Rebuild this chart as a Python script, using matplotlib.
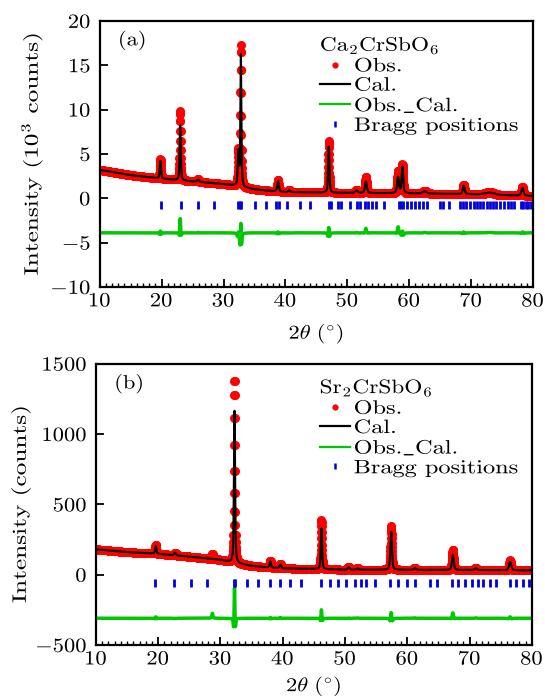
import matplotlib
matplotlib.use('Agg')
import matplotlib.pyplot as plt
import numpy as np
from matplotlib.ticker import MultipleLocator
from matplotlib.patheffects import AbstractPathEffect
from matplotlib.transforms import Affine2D

plt.rcParams['font.family'] = 'serif'
plt.rcParams['font.serif'] = ['cmr10']
plt.rcParams['mathtext.fontset'] = 'cm'
plt.rcParams['axes.formatter.use_mathtext'] = True
plt.rcParams['font.size'] = 14

# ---- Ca2CrSbO6 (intensity in 10^3 counts) ----
bg_x_a = [10, 15, 20, 25, 30, 32, 35, 38, 40, 50, 60, 70, 80]
bg_y_a = [3.2, 2.6, 2.2, 1.9, 1.6, 1.4, 1.0, 0.8, 0.7, 0.6, 0.55, 0.45, 0.25]
peak_pos_a = [19.8, 23.0, 25.9, 32.4, 32.8, 38.8, 40.6, 47.0, 51.5, 53.0, 58.2, 58.9, 62.5, 68.8, 73.0, 78.3]
peak_obs_a = [2.2, 7.8, 0.3, 4.0, 15.9, 1.3, 0.2, 5.8, 0.35, 1.8, 2.5, 3.2, 0.3, 1.05, 0.3, 0.95]
peak_cal_a = [2.0, 6.2, 0.25, 3.8, 14.8, 1.2, 0.2, 5.2, 0.3, 1.3, 1.8, 3.0, 0.25, 0.95, 0.25, 0.85]
peak_fwhm_a = [0.2, 0.18, 0.3, 0.2, 0.16, 0.25, 0.3, 0.2, 0.4, 0.3, 0.3, 0.25, 0.6, 0.3, 1.5, 0.35]
bragg_a = [19.9, 23.1, 25.9, 28.5, 32.4, 32.7, 32.9, 35.1, 36.8, 38.5, 38.9, 40.2, 42.3, 43.9,
           47.0, 47.3, 48.5, 49.0, 50.4, 51.5, 52.1, 52.8, 53.3, 54.0, 54.7, 56.0, 58.3, 58.7,
           59.0, 59.6, 60.3, 61.0, 61.6, 62.3, 62.8, 65.0, 65.5, 66.5, 68.2, 68.7, 69.2, 69.8,
           70.4, 71.0, 71.5, 72.0, 72.6, 73.1, 73.6, 74.1, 74.7, 75.3, 75.9, 76.5, 77.0, 78.0,
           78.4, 78.8, 79.2, 79.6, 80.0]

# ---- Sr2CrSbO6 (intensity in counts) ----
bg_x_b = [10, 15, 20, 25, 30, 32, 35, 38, 40, 50, 60, 70, 80]
bg_y_b = [180, 160, 148, 128, 105, 85, 62, 50, 45, 35, 34, 33, 30]
peak_pos_b = [19.6, 22.7, 28.7, 32.25, 38.0, 39.6, 46.2, 50.6, 52.0, 57.4, 61.2, 67.3, 71.0, 76.5]
peak_obs_b = [65, 20, 35, 1310, 50, 30, 350, 20, 10, 310, 15, 145, 15, 70]
peak_cal_b = [55, 20, 0, 1090, 45, 25, 290, 18, 8, 270, 12, 107, 12, 60]
peak_fwhm_b = [0.2, 0.25, 0.2, 0.18, 0.22, 0.25, 0.2, 0.3, 0.3, 0.25, 0.3, 0.28, 0.35, 0.35]
bragg_b = [19.5, 22.5, 25.3, 27.8, 32.1, 32.3, 34.2, 36.1, 37.9, 39.5, 41.1, 43.0, 46.2,
           47.6, 48.9, 50.2, 51.6, 52.6, 53.4, 54.8, 57.2, 58.5, 59.9, 61.2, 63.6, 64.7,
           67.1, 68.2, 69.2, 70.3, 71.4, 72.2, 73.2, 74.3, 76.5, 77.5, 78.6, 79.6]

x = np.arange(10, 80.001, 0.02)


class Widen(AbstractPathEffect):
    """Stretch glyphs along the writing direction."""

    def __init__(self, sx, anchor='left'):
        super().__init__()
        self.sx = sx
        self.anchor = anchor

    def draw_path(self, renderer, gc, tpath, affine, rgbFace=None):
        v = tpath.vertices[:, 0]
        c = 0.0
        if len(v):
            if self.anchor == 'center':
                c = (v.min() + v.max()) / 2
            elif self.anchor == 'right':
                c = v.max()
        t = Affine2D().translate(-c, 0).scale(self.sx, 1).translate(c, 0)
        renderer.draw_path(gc, tpath, t + affine, rgbFace)


def profile(bx, by, pos, hgt, fwhm, wscale=1.0):
    y = np.interp(x, bx, by)
    for p, h, w in zip(pos, hgt, fwhm):
        w = w * wscale
        lor = (w / 2) ** 2 / ((x - p) ** 2 + (w / 2) ** 2)
        gau = np.exp(-4 * np.log(2) * (x - p) ** 2 / w ** 2)
        y = y + h * (0.5 * lor + 0.5 * gau)
    return y


def draw(ax, obs, cal, offset, bragg, bragg_y, title, tag, leg_x, leg_y, xpad):
    ax.plot(x, obs, 'o', color='#ff0000', ms=6.5, mec='none', label='Obs.')
    ax.plot(x, cal, '-', color='black', lw=1.5, label='Cal.')
    ax.plot(x, obs - cal + offset, '-', color='#00c800', lw=2.5, label=r'Obs.$\_$Cal.')
    ax.plot(bragg, [bragg_y] * len(bragg), '|', color='#0000dd', ms=5.5, mew=2,
            label='Bragg positions')
    ax.set_xlim(10, 80)
    ax.xaxis.set_major_locator(MultipleLocator(10))
    ax.xaxis.set_minor_locator(MultipleLocator(1))
    ax.tick_params(axis='both', which='both', direction='in', top=False, right=False,
                   labelsize=14.5)
    ax.tick_params(axis='x', which='major', length=6, width=1.3, pad=4)
    ax.tick_params(axis='x', which='minor', length=3, width=1.0)
    ax.tick_params(axis='y', which='major', length=6, width=1.3, pad=6)
    for s in ax.spines.values():
        s.set_linewidth(1.6)
    ax.set_xlabel(r'$2\theta\ (^{\circ})$', fontsize=14, labelpad=xpad,
                  path_effects=[Widen(1.15, 'center')])
    ax.text(0.042, 0.965, tag, transform=ax.transAxes, va='top', ha='left', fontsize=14,
            path_effects=[Widen(1.15)])
    leg = ax.legend(loc='upper left', bbox_to_anchor=(leg_x, leg_y), frameon=False,
                    title=title, handlelength=1.55, handletextpad=0.2, labelspacing=0.07,
                    borderaxespad=0, borderpad=0, alignment='left', fontsize=14)
    leg.get_title().set_fontsize(14)
    leg.get_title().set_path_effects([Widen(1.2)])
    for t in leg.get_texts():
        t.set_path_effects([Widen(1.25)])
    handles = leg.legend_handles
    handles[0].set_markersize(4.5)
    handles[1].set_linewidth(1.6)
    handles[2].set_linewidth(1.6)
    handles[3].set_markersize(5)
    handles[3].set_markeredgewidth(1.8)


fig = plt.figure(figsize=(5.45, 6.98), dpi=100)
ax1 = fig.add_axes([0.183, 0.589, 0.795, 0.381])
ax2 = fig.add_axes([0.176, 0.076, 0.800, 0.403])

obs_a = profile(bg_x_a, bg_y_a, peak_pos_a, peak_obs_a, peak_fwhm_a)
cal_a = profile(bg_x_a, bg_y_a, peak_pos_a, peak_cal_a, peak_fwhm_a, 1.2)
draw(ax1, obs_a, cal_a, -3.9, bragg_a, -0.75, r'Ca$_2$CrSbO$_6$', '(a)', 0.508, 0.948, 8)
ax1.set_ylim(-10, 20)
ax1.yaxis.set_major_locator(MultipleLocator(5))
ax1.set_ylabel(r'Intensity (10$^3$ counts)', fontsize=14, labelpad=7,
               path_effects=[Widen(1.3, 'center')])

obs_b = profile(bg_x_b, bg_y_b, peak_pos_b, peak_obs_b, peak_fwhm_b)
cal_b = profile(bg_x_b, bg_y_b, peak_pos_b, peak_cal_b, peak_fwhm_b, 1.2)
draw(ax2, obs_b, cal_b, -310, bragg_b, -62, r'Sr$_2$CrSbO$_6$', '(b)', 0.513, 0.952, 4)
ax2.set_ylim(-500, 1500)
ax2.yaxis.set_major_locator(MultipleLocator(500))
ax2.set_ylabel('Intensity (counts)', fontsize=14, labelpad=7,
               path_effects=[Widen(1.3, 'center')])

fig.canvas.draw()
for ax in (ax1, ax2):
    for lbl in ax.get_xticklabels():
        lbl.set_path_effects([Widen(1.12, 'center')])
    for lbl in ax.get_yticklabels():
        lbl.set_path_effects([Widen(1.12, 'right')])

fig.savefig('out.png', dpi=100)
